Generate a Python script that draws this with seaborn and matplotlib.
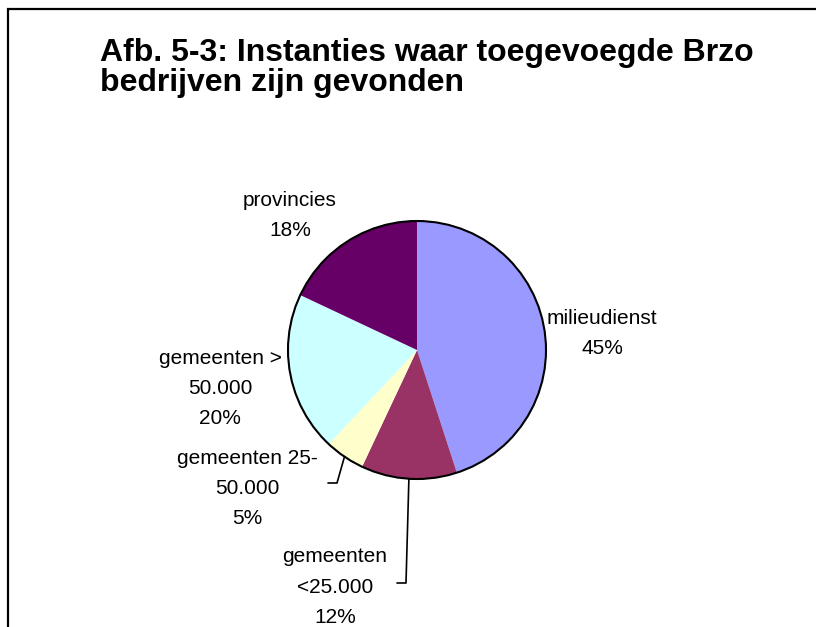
import matplotlib
matplotlib.use("Agg")
import matplotlib.pyplot as plt
import seaborn as sns
import numpy as np

# ---- data ----
categories = ["milieudienst", "gemeenten\n<25.000", "gemeenten 25-\n50.000",
              "gemeenten >\n50.000", "provincies"]
values = [45, 12, 5, 20, 18]
pct_labels = ["45%", "12%", "5%", "20%", "18%"]
colors = ["#9999FF", "#993366", "#FFFFCC", "#CCFFFF", "#660066"]
title = "Afb. 5-3: Instanties waar toegevoegde Brzo\nbedrijven zijn gevonden"

# ---- layout (pixel coordinates, y measured from top; y = baseline of last line) ----
W, H = 816, 627
label_pos = [(602, 354), (335, 623), (247, 524), (220, 424), (290, 236)]
leader_elbows = {1: [(406, 583), (397, 583)], 2: [(337, 483), (328, 483)]}

sns.set_theme(style="white")
plt.rcParams['font.family'] = ['Liberation Sans', 'DejaVu Sans']

fig = plt.figure(figsize=(W / 100, H / 100), dpi=100)
ax = fig.add_axes([0, 0, 1, 1])

cx, cy, r = 417, H - 350, 129
wedges, _ = ax.pie(values, colors=colors, startangle=90, counterclock=False,
                   center=(cx, cy), radius=r,
                   wedgeprops=dict(linewidth=0, edgecolor='none'))
ax.add_patch(plt.Circle((cx, cy), r, fill=False, ec='black', lw=1.5, zorder=3))

# labels
for i, (cat, pct) in enumerate(zip(categories, pct_labels)):
    x, yb = label_pos[i]
    ax.text(x, H - yb, f"{cat}\n{pct}", ha='center', va='baseline',
            multialignment='center', fontsize=15, linespacing=1.75,
            color='black')

# leader lines from wedge midpoints
for i, pts in leader_elbows.items():
    w = wedges[i]
    ang = np.deg2rad((w.theta1 + w.theta2) / 2)
    sx, sy = cx + r * np.cos(ang), cy + r * np.sin(ang)
    xs = [sx] + [p[0] for p in pts]
    ys = [sy] + [H - p[1] for p in pts]
    ax.plot(xs, ys, color='black', lw=1.2, zorder=4)

# title
ax.text(100, H - 91, title, fontsize=23, fontweight='bold', ha='left',
        va='baseline', linespacing=1.0, color='black')

# chart border
ax.plot([8, 8, W + 5], [-5, H - 9, H - 9], color='black', lw=1.6,
        solid_joinstyle='miter', clip_on=False)

ax.set_xlim(0, W)
ax.set_ylim(0, H)
ax.set_aspect('auto')
ax.set_axis_off()

fig.savefig("out.png", dpi=100, facecolor='white')
